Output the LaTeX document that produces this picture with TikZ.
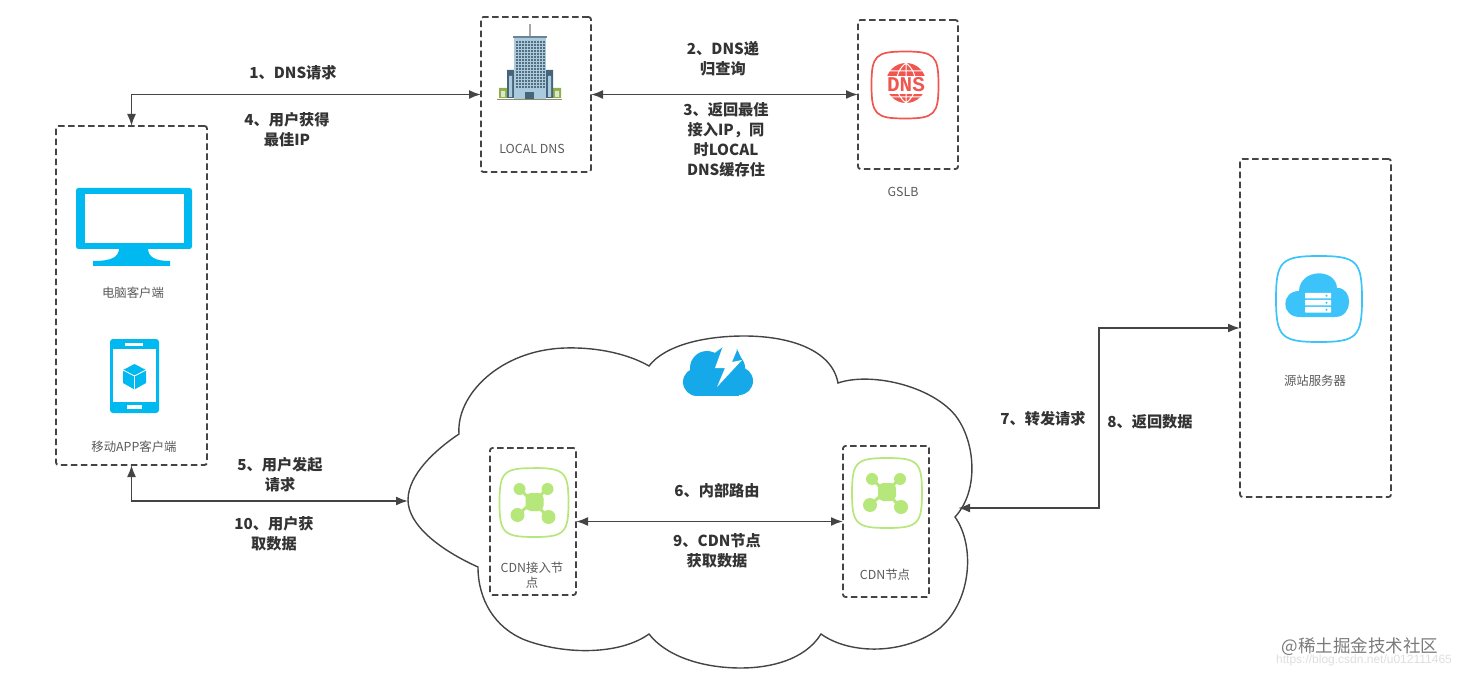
\documentclass[tikz,border=0pt]{standalone}
\usepackage{fontspec}
\setmainfont{Noto Sans CJK SC}
\newfontfamily\urlfont{Liberation Sans}
\newfontfamily\dnsfont{Liberation Mono}
\usetikzlibrary{arrows.meta}

\definecolor{linegray}{HTML}{444444}
\definecolor{labelgray}{HTML}{333333}
\definecolor{capgray}{HTML}{5A5A5A}
\definecolor{clientblue}{HTML}{00B9F1}
\definecolor{originblue}{HTML}{3CC4FA}
\definecolor{boltblue}{HTML}{16A9E9}
\definecolor{hubgreen}{HTML}{B6E77A}
\definecolor{dnsred}{HTML}{F0564F}
\definecolor{towerlight}{HTML}{A9CBDD}
\definecolor{towerdark}{HTML}{566F80}
\definecolor{wingdark}{HTML}{46647A}
\definecolor{bushgreen}{HTML}{8FAE4F}

\tikzset{
    dashbox/.style={draw=linegray, line width=1.8pt, rounded corners=2.5pt, dash pattern=on 6.5pt off 3.5pt, outer sep=0pt},
    flow/.style={draw=linegray, line width=1.8pt, {Latex[length=12pt,width=9pt]}-{Latex[length=12pt,width=9pt]}},
    steplabel/.style={text=labelgray, font=\fontsize{15.2}{20}\selectfont\bfseries, align=center},
    caption/.style={text=capgray, font=\fontsize{12.4}{15}\selectfont, align=center},
    squircle/.pic={
        \path[pic actions] (0,-1) .. controls (0.88,-1) and (1,-0.88) .. (1,0)
            .. controls (1,0.88) and (0.88,1) .. (0,1)
            .. controls (-0.88,1) and (-1,0.88) .. (-1,0)
            .. controls (-1,-0.88) and (-0.88,-1) .. cycle;
    },
    hub/.pic={
        \draw[hubgreen, line width=3pt] (-15,-13) -- (14,15) (13,-13) -- (-17,13);
        \fill[hubgreen, rounded corners=5pt] (-9,-9) rectangle (9,9);
        \fill[hubgreen] (-15,-13) circle (6) (13,-13) circle (6) (-17,13) circle (7) (14,15) circle (7);
    }
}

\begin{document}
\begin{tikzpicture}[x=1pt, y=-1pt]
    \useasboundingbox (0,0) rectangle (1460,679);

    % cdn cloud
    \draw[linegray, line width=1.4pt]
        (459,434) .. controls (456,395) and (500,350) .. (565,348) .. controls (600,347) and (630,355) .. (649,366)
        .. controls (665,345) and (705,336) .. (744,336) .. controls (790,336) and (832,350) .. (838,383)
        .. controls (870,372) and (930,385) .. (955,415) .. controls (975,440) and (980,490) .. (955,517)
        .. controls (975,545) and (972,600) .. (940,628) .. controls (905,655) and (850,655) .. (821,634)
        .. controls (805,660) and (770,668) .. (741,668) .. controls (700,668) and (665,655) .. (649,634)
        .. controls (620,655) and (565,655) .. (525,640) .. controls (495,628) and (478,600) .. (478,567)
        .. controls (440,550) and (408,525) .. (408,500) .. controls (408,475) and (435,450) .. (459,434) -- cycle;

    % boxes
    \node[dashbox, minimum width=151pt, minimum height=339pt] (client) at (131.5,295.5) {};
    \node[dashbox, minimum width=110pt, minimum height=155pt] (localdns) at (536,94.5) {};
    \node[dashbox, minimum width=100pt, minimum height=149pt] (gslb) at (908,94.5) {};
    \node[dashbox, minimum width=151pt, minimum height=338pt] (origin) at (1315.5,328) {};
    \node[dashbox, minimum width=86pt, minimum height=147pt] (cdnin) at (533,521.5) {};
    \node[dashbox, minimum width=86pt, minimum height=151pt] (cdnnode) at (886,521.5) {};

    \coordinate (cloudwest) at (408,501);
    \coordinate (cloudeast) at (958,508);

    % connectors
    \draw[flow] (client.north) |- (localdns.west);
    \draw[flow] (localdns.east) -- (gslb.west);
    \draw[flow] (client.south) |- (cloudwest);
    \draw[flow] (cdnin.east) -- (cdnnode.west);
    \draw[flow] (cloudeast) -- ++(141,0) |- (origin.west);

    % monitor
    \fill[clientblue, rounded corners=2.5pt] (76,188) rectangle (192,249);
    \fill[white] (85,194) rectangle (184,243);
    \fill[clientblue] (119,248) .. controls (119,257) and (112,261) .. (93,261) -- (93,266) -- (170,266) -- (170,261)
        .. controls (155,261) and (148,257) .. (148,248) -- cycle;

    % phone
    \fill[clientblue, rounded corners=3pt] (110,339) rectangle (159,413);
    \fill[white] (113,349) rectangle (156,402);
    \fill[white] (125,343) rectangle (143,345.5);
    \fill[white] (127,405) rectangle (142,409);
    \fill[clientblue] (134.5,364) -- (146,370) -- (146,383) -- (134.5,389.5) -- (123,383) -- (123,370) -- cycle;
    \draw[white, line width=0.9pt] (123,370) -- (134.5,376) -- (146,370) (134.5,376) -- (134.5,389.5);

    % building
    \draw[gray!70, line width=1.6pt] (530,24) -- (530,37);
    \fill[bushgreen] (499,88) rectangle (507,98) (553,88) rectangle (561,98);
    \fill[white!70!bushgreen] (501,91) rectangle (505,97) (555,91) rectangle (559,97);
    \fill[wingdark] (507,70) rectangle (514,98) (546,70) rectangle (553,98);
    \fill[towerlight] (509,76) rectangle (512,97) (548,76) rectangle (551,97);
    \fill[towerlight] (514,37) rectangle (546,99);
    \fill[wingdark] (525,92) rectangle (534,99);
    \fill[wingdark!80] (513,36) rectangle (547,38.5);
    \foreach \wy in {41,44,...,86}
        \foreach \wx in {516,519,...,543}
            \fill[towerdark] (\wx,\wy) rectangle ++(2,2);
    \draw[gray!70!olive, line width=0.8pt] (497,99.5) -- (562,99.5);

    % dns icon
    \pic[draw=dnsred, line width=1.7pt, scale=33.5] at (905,85) {squircle};
    \fill[dnsred] (906,83) circle (20);
    \draw[white, line width=1pt] (906,63) -- (906,103) (906,63) .. controls (893,73) and (893,93) .. (906,103)
        (906,63) .. controls (919,73) and (919,93) .. (906,103) (890,71) -- (922,71) (890,97) -- (922,97);
    \fill[white] (882,76) rectangle (930,94);
    \node[text=dnsred, font=\dnsfont\bfseries\fontsize{21}{21}\selectfont] (dnsword) at (906,85) {DNS};

    % bolt cloud
    \fill[boltblue] (697,382) circle (14) (707,368) circle (17) (730,368) circle (15) (739,381) circle (14);
    \fill[boltblue] (697,376) rectangle (739,396);
    \fill[boltblue] (712,355) -- (723,347) -- (730,358) -- cycle (729,360) -- (737,349) -- (745,366) -- cycle;
    \fill[white] (723,346) -- (715,368) -- (725,368) -- (717,387) -- (742,360) -- (732,362) -- (737,350) -- (730,349) -- cycle;

    % origin icon
    \pic[draw=originblue, line width=1.7pt, scale=43] at (1319,299) {squircle};
    \fill[originblue] (1300,317) .. controls (1280,317) and (1281,291) .. (1299,291)
        .. controls (1300,268) and (1336,268) .. (1337,288) .. controls (1353,287) and (1354,317) .. (1335,317) -- cycle;
    \foreach \sy in {293,300,307} {
        \fill[white, rounded corners=0.5pt] (1305,\sy) rectangle ++(26,5.5);
        \fill[originblue] (1326.5,\sy+2.7) circle (1.1);
    }

    % hubs
    \pic[draw=hubgreen, line width=1.7pt, scale=34.5] at (534,502.5) {squircle};
    \pic at (534.5,502) {hub};
    \pic[draw=hubgreen, line width=1.7pt, scale=35] at (887,493) {squircle};
    \pic at (887,492) {hub};

    % captions
    \node[caption] (clientcap) at (133,293) {电脑客户端};
    \node[caption] (appcap) at (134,447) {移动APP客户端};
    \node[caption] (localcap) at (532,149) {LOCAL DNS};
    \node[caption] (gslbcap) at (903,192) {GSLB};
    \node[caption] (origincap) at (1315,381) {源站服务器};
    \node[caption] (cdnincap) at (532,575) {CDN接入节\\点};
    \node[caption] (cdnnodecap) at (885,575) {CDN节点};

    % step labels
    \node[steplabel] (stepone) at (293,73) {1、DNS请求};
    \node[steplabel] (stepfour) at (287,130) {4、用户获得\\最佳IP};
    \node[steplabel] (steptwo) at (723,59) {2、DNS递\\归查询};
    \node[steplabel] (stepthree) at (726,140) {3、返回最佳\\接入IP，同\\时LOCAL\\DNS缓存住};
    \node[steplabel] (stepfive) at (280,475) {5、用户发起\\请求};
    \node[steplabel] (stepten) at (274,534) {10、用户获\\取数据};
    \node[steplabel] (stepsix) at (717,491) {6、内部路由};
    \node[steplabel] (stepnine) at (717,551) {9、CDN节点\\获取数据};
    \node[steplabel] (stepseven) at (1043,419) {7、转发请求};
    \node[steplabel] (stepeight) at (1150,422) {8、返回数据};

    % watermark
    \node[text=black!13, inner sep=0pt, font=\urlfont\fontsize{12}{12}\selectfont] (urlmark) at (1364,660) {https://blog.csdn.net/u012111465};
    \node[text=black!52, inner sep=0pt, font=\fontsize{17.5}{18}\selectfont] (juejinmark) at (1360,647) {@稀土掘金技术社区};
\end{tikzpicture}
\end{document}
